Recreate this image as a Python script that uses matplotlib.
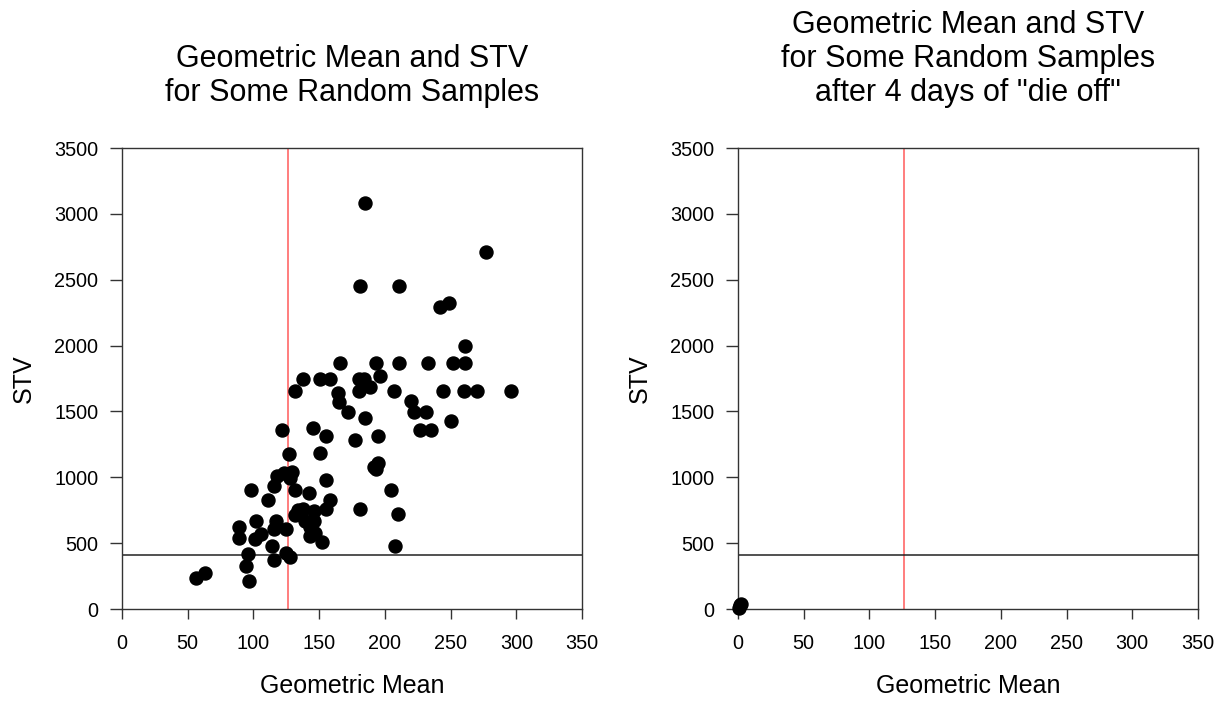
import numpy as np
import matplotlib
matplotlib.use('Agg')
import matplotlib.pyplot as plt

plt.rcParams['font.family'] = ['Liberation Sans', 'DejaVu Sans']

# geometric mean / STV pairs
geo_mean = [185, 277, 181, 211, 242, 249, 261,
            166, 193, 211, 233, 252, 261,
            138, 151, 158, 180, 184, 196,
            132, 164, 180, 189, 207, 244, 260, 270, 296,
            165, 220, 172, 222, 231, 185, 250, 227, 235,
            122, 145, 155, 195, 177, 127, 151, 195, 192, 193,
            118, 123, 129, 128, 155, 116, 98, 132, 205, 142,
            111, 158, 210, 181, 155,
            134, 138, 132, 146, 139, 146, 143,
            102, 117, 89, 116, 125, 106, 101, 89, 143, 147, 152,
            114, 208, 96, 125, 128, 116, 94, 56, 63, 97]
stv = [3080, 2710, 2450, 2450, 2290, 2320, 2000,
       1865, 1865, 1865, 1865, 1865, 1865,
       1745, 1745, 1745, 1745, 1745, 1767,
       1653, 1640, 1653, 1686, 1653, 1653, 1653, 1653, 1653,
       1574, 1579, 1493, 1493, 1493, 1453, 1427, 1360, 1360,
       1360, 1374, 1316, 1316, 1283, 1180, 1184, 1106, 1076, 1060,
       1010, 1030, 1040, 992, 977, 934, 904, 904, 904, 878,
       828, 828, 719, 759, 759,
       752, 757, 714, 747, 668, 668, 625,
       668, 668, 625, 605, 605, 569, 529, 537, 554, 575, 506,
       481, 481, 418, 423, 397, 372, 326, 238, 271, 215]

# after 4 days of die off everything sits near the origin
geo_mean_die = [0.5, 1.5, 2.5]
stv_die = [10, 30, 35]

stv_limit = 410
mean_limit = 126

x_ticks = [0, 50, 100, 150, 200, 250, 300, 350]
y_ticks = [0, 500, 1000, 1500, 2000, 2500, 3000, 3500]

titles = ['Geometric Mean and STV\nfor Some Random Samples',
          'Geometric Mean and STV\nfor Some Random Samples\nafter 4 days of "die off"']


def draw_panel(ax, x, y, title):
    ax.axvline(mean_limit, color='#ff5a5a', lw=1.1, zorder=1)
    ax.axhline(stv_limit, color='#222222', lw=1.1, zorder=1)
    ax.scatter(x, y, s=88, color='black', zorder=3, clip_on=False)
    ax.set_xlim(0, 350)
    ax.set_ylim(0, 3500)
    ax.set_xticks(x_ticks)
    ax.set_yticks(y_ticks)
    ax.tick_params(direction='out', width=1, labelsize=14.3, color='#333333')
    ax.tick_params(axis='x', length=7, pad=11)
    ax.tick_params(axis='y', length=9, pad=8)
    for sp in ax.spines.values():
        sp.set_color('#333333')
        sp.set_linewidth(1)
    ax.set_xlabel('Geometric Mean', fontsize=18, labelpad=15)
    ax.set_ylabel('STV', fontsize=18, labelpad=13)
    ax.set_title(title, fontsize=22, pad=34, linespacing=1.18)


fig = plt.figure(figsize=(12.25, 7.01), dpi=100)
ax1 = fig.add_axes([0.0996, 0.1312, 0.3755, 0.6576])
ax2 = fig.add_axes([0.6024, 0.1312, 0.3755, 0.6576])

draw_panel(ax1, geo_mean, stv, titles[0])
draw_panel(ax2, geo_mean_die, stv_die, titles[1])

fig.savefig('out.png', dpi=100)
